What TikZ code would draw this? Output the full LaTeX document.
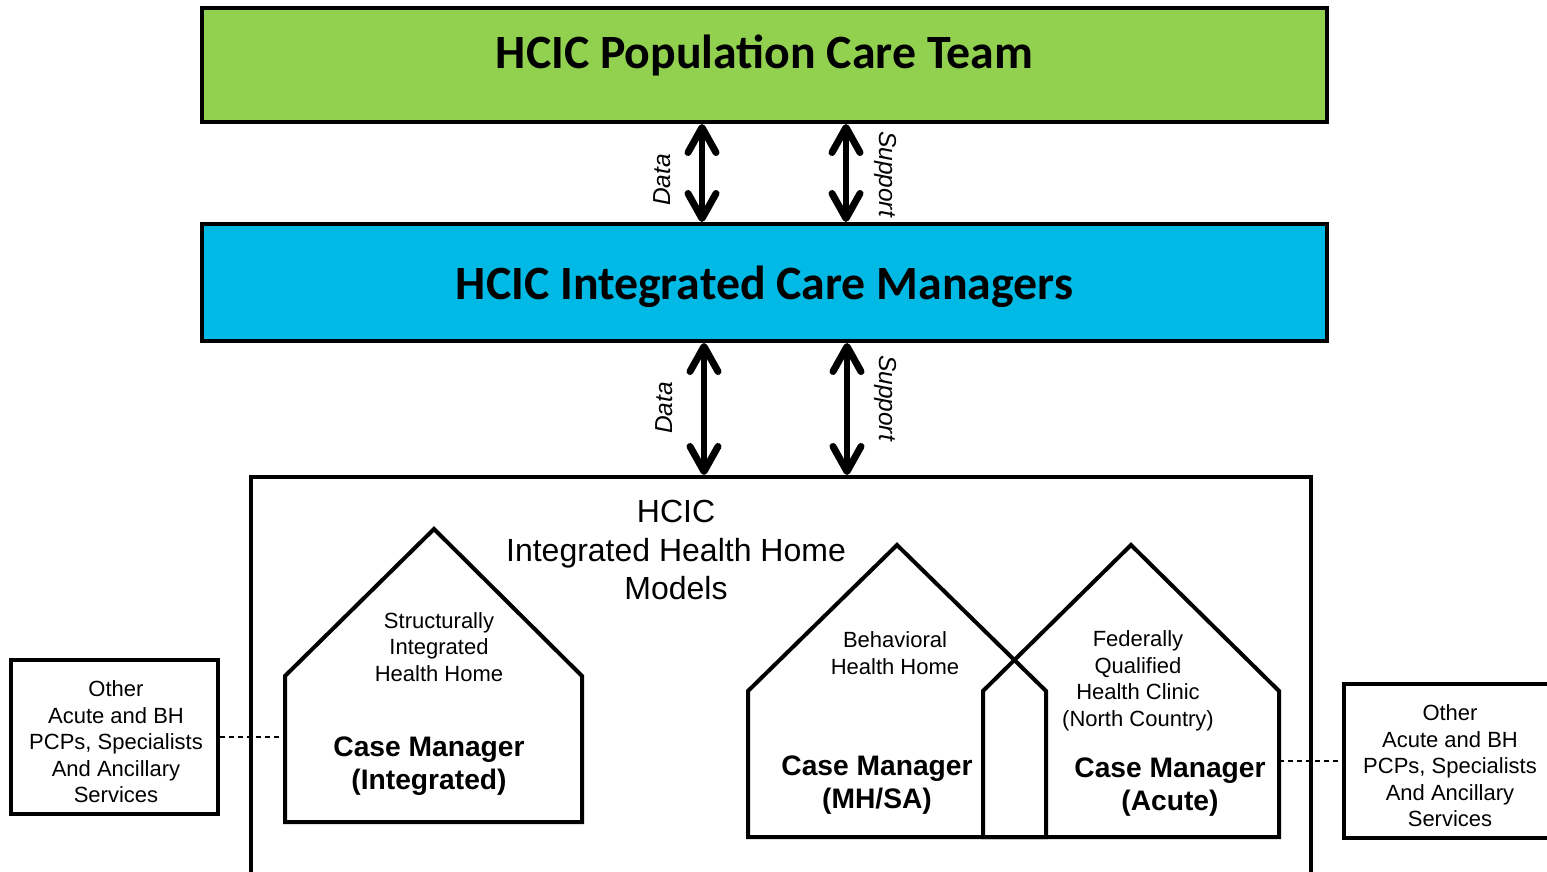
\documentclass[tikz,border=0pt]{standalone}
\usepackage{fontspec}
\setmainfont{Liberation Sans}
\newfontfamily\calib{Carlito}
\usetikzlibrary{arrows.meta}
\definecolor{popgreen}{HTML}{92D050}
\definecolor{icmblue}{HTML}{00B9E4}
\begin{document}
\begin{tikzpicture}[x=1pt,y=-1pt,
  bar/.style={draw=black,line width=4pt,minimum width=1125pt,inner sep=0pt},
  bigtitle/.style={font=\calib\bfseries\fontsize{47.8}{50}\selectfont,inner sep=0pt},
  barb/.tip={Straight Barb[length=25pt,width=28pt,line width=7pt,round]},
  dbl/.style={line width=5.5pt,barb-barb},
  lab/.style={font=\itshape\fontsize{24.5}{28}\selectfont,inner sep=0pt},
  small/.style={font=\fontsize{22}{26.5}\selectfont,align=center,inner sep=0pt},
  cmgr/.style={font=\bfseries\fontsize{28.2}{33}\selectfont,align=center,inner sep=0pt},
  house/.style={line width=4pt,line join=miter},
  side/.style={draw=black,line width=4pt,minimum height=154pt,inner sep=0pt},
  dashline/.style={line width=1.5pt,dash pattern=on 5pt off 4pt}]
\useasboundingbox (0,0) rectangle (1547,872);
\clip (0,0) rectangle (1547,872);

% top bars
\node[bar,fill=popgreen,minimum height=114pt] (g) at (764.5,65) {};
\node[bigtitle] (gt) at (764.5,55.5) {HCIC Population Care Team};
\node[bar,fill=icmblue,minimum height=117pt] (b) at (764.5,282.5) {};
\node[bigtitle] (bt) at (764.5,287) {HCIC Integrated Care Managers};

% big container
\node[draw=black,line width=4pt,minimum width=1060pt,minimum height=420pt,inner sep=0pt] (hh) at (781,687) {};
\node[font=\fontsize{32}{38.5}\selectfont,align=center,inner sep=0pt] (hht) at (676,550) {HCIC\\Integrated Health Home\\Models};

% arrows
\draw[dbl] (g.south -| 702,0) -- (b.north -| 702,0);
\draw[dbl] (g.south -| 846,0) -- (b.north -| 846,0);
\draw[dbl] (b.south -| 704,0) -- (hh.north -| 704,0);
\draw[dbl] (b.south -| 847,0) -- (hh.north -| 847,0);
\node[lab,rotate=90] (d1) at (662,180) {Data};
\node[lab,rotate=-90] (s1) at (886,174) {Support};
\node[lab,rotate=90] (d2) at (664,408) {Data};
\node[lab,rotate=-90] (s2) at (886,398) {Support};

% houses
\draw[house] (285,822) -- (285,676) -- (434,529) -- (582,676) -- (582,822) -- cycle;
\draw[house] (748,837) -- (748,691) -- (897,545) -- (1046,691) -- (1046,837) -- cycle;
\draw[house] (983,837) -- (983,691) -- (1131,545) -- (1279,691) -- (1279,837) -- cycle;

\node[small] (t1) at (439,647) {Structurally\\Integrated\\Health Home};
\node[cmgr] (c1) at (429,766) {Case Manager\\(Integrated)};
\node[small] (t2) at (895,653) {Behavioral\\Health Home};
\node[cmgr] (c2) at (877,785) {Case Manager\\(MH/SA)};
\node[small] (t3) at (1138,681) {Federally\\Qualified\\Health Clinic\\(North Country)};
\node[cmgr] (c3) at (1170,787) {Case Manager\\(Acute)};

% side boxes
\node[side,minimum width=207pt] (lb) at (114.5,737) {};
\node[small] (lbt) at (116,742) {Other\\Acute and BH\\PCPs, Specialists\\And Ancillary\\Services};
\node[side,minimum width=212pt] (rb) at (1450,761) {};
\node[small] (rbt) at (1450,766) {Other\\Acute and BH\\PCPs, Specialists\\And Ancillary\\Services};
\coordinate (h1w) at (285,737);
\coordinate (h3e) at (1279,761);
\draw[dashline] (lb.east) -- (h1w);
\draw[dashline] (h3e) -- (rb.west);
\end{tikzpicture}
\end{document}
